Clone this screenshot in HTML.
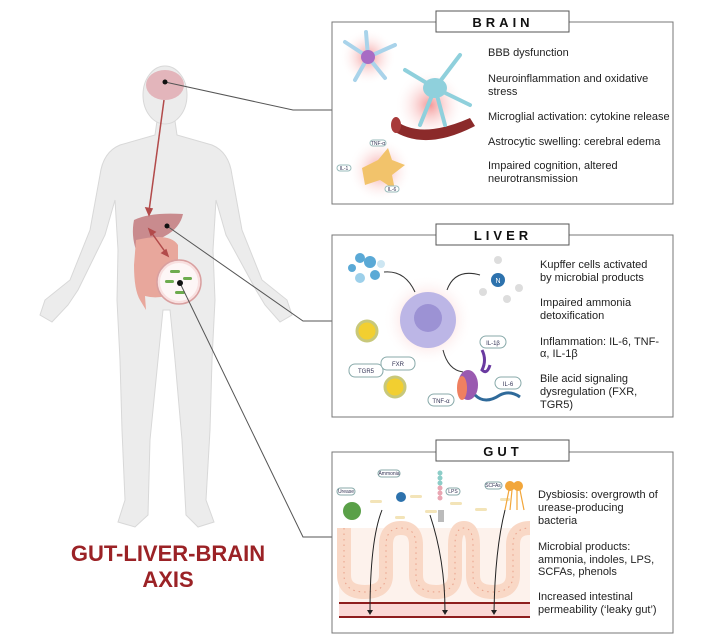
<!DOCTYPE html>
<html><head><meta charset="utf-8"><style>
html,body{margin:0;padding:0;background:#fff;}
body{width:706px;height:641px;overflow:hidden;position:relative;font-family:"Liberation Sans",sans-serif;}
svg{position:absolute;left:0;top:0;}
.t{font-family:"Liberation Sans",sans-serif;font-size:11px;fill:#222;}
.h{font-family:"Liberation Sans",sans-serif;font-size:13px;font-weight:bold;letter-spacing:4px;fill:#111;}
.s{font-family:"Liberation Sans",sans-serif;font-size:5px;fill:#335;}
</style></head><body>
<svg width="706" height="641" viewBox="0 0 706 641">
<defs>
<radialGradient id="rg"><stop offset="0" stop-color="#f28c8c" stop-opacity=".9"/><stop offset="1" stop-color="#fff" stop-opacity="0"/></radialGradient>
</defs>
<g fill="#ececec" stroke="#d8d8d8" stroke-width="1">
<path d="M157,121 L155,135 L120,145 Q103,152 100,175 L90,230 L70,280 L45,300 L40,315 L52,322 L68,305 L78,290 L105,235 L115,200 L118,250 L117,300 L120,360 L122,430 L125,500 L118,522 L135,527 L148,515 L150,440 L158,360 L163,310 L170,310 L175,360 L182,440 L186,515 L198,527 L214,522 L206,500 L210,430 L212,360 L215,300 L213,250 L216,200 L226,235 L256,290 L265,305 L280,322 L292,315 L287,300 L262,280 L242,230 L232,175 Q229,152 212,145 L177,135 L175,121 Z"/>
<ellipse cx="165" cy="95" rx="22" ry="29"/>
</g>
<ellipse cx="165" cy="85" rx="19" ry="15" fill="#e3b5bb"/>
<path d="M134,220 Q150,212 183,214 Q180,228 165,236 Q150,245 136,250 Q131,235 134,220Z" fill="#c98b8e"/>
<path d="M136,240 Q170,232 178,245 L178,292 Q160,300 145,296 L146,310 L140,300 Q134,290 134,265Z" fill="#e8a79c"/>
<circle cx="179" cy="282" r="22" fill="#f8e0e0" stroke="#d9a0a0" stroke-width="1.5"/>
<circle cx="179" cy="282" r="19" fill="#fff" opacity=".7"/>
<g fill="#6dab4e"><rect x="170" y="270" width="10" height="3" rx="1.5"/><rect x="165" y="280" width="9" height="3" rx="1.5"/><rect x="183" y="277" width="9" height="3" rx="1.5"/><rect x="175" y="291" width="10" height="3" rx="1.5"/></g>
<g stroke="#b24a4a" stroke-width="1.5" fill="#b24a4a">
<line x1="164" y1="100" x2="149" y2="211"/><path d="M149,215 l-3,-7 l6,1z"/>
<line x1="151" y1="232" x2="166" y2="253"/><path d="M149,229 l6,3 l-4,3z"/><path d="M168,256 l-6,-3 l4,-3z"/>
</g>
<g stroke="#555" stroke-width="1" fill="none">
<polyline points="165,82 293,110 332,110"/>
<polyline points="167,226 303,321 332,321"/>
<polyline points="180,283 303,537 332,537"/>
</g>
<g fill="#111"><circle cx="165" cy="82" r="2.5"/><circle cx="167" cy="226" r="2.5"/><circle cx="180" cy="283" r="3"/></g>
<text x="168" y="561" text-anchor="middle" font-family="Liberation Sans,sans-serif" font-size="22" font-weight="bold" fill="#9b2226">GUT-LIVER-BRAIN</text>
<text x="168" y="587" text-anchor="middle" font-family="Liberation Sans,sans-serif" font-size="22" font-weight="bold" fill="#9b2226">AXIS</text>

<rect x="332" y="22" width="341" height="182" fill="#fff" stroke="#777" stroke-width="1"/>
<rect x="436" y="11" width="133" height="21" fill="#fff" stroke="#555"/>
<text x="503" y="27" text-anchor="middle" class="h">BRAIN</text>
<circle cx="368" cy="57" r="28" fill="url(#rg)"/>
<g stroke="#a9d3ea" stroke-width="4" stroke-linecap="round"><line x1="368" y1="57" x2="345" y2="42"/><line x1="368" y1="57" x2="395" y2="45"/><line x1="368" y1="57" x2="355" y2="80"/><line x1="368" y1="57" x2="385" y2="78"/><line x1="368" y1="57" x2="366" y2="32"/></g>
<circle cx="368" cy="57" r="7" fill="#a86cc4"/>
<circle cx="430" cy="105" r="35" fill="url(#rg)"/>
<path d="M395,120 Q420,140 470,118 L475,126 Q425,152 392,130Z" fill="#8b2a2a"/>
<ellipse cx="396" cy="125" rx="5" ry="8" fill="#a83a3a"/>
<g stroke="#8fd0dc" stroke-width="4" stroke-linecap="round"><line x1="435" y1="88" x2="405" y2="70"/><line x1="435" y1="88" x2="460" y2="55"/><line x1="435" y1="88" x2="470" y2="105"/><line x1="435" y1="88" x2="420" y2="125"/><line x1="435" y1="88" x2="445" y2="125"/></g>
<ellipse cx="435" cy="88" rx="12" ry="10" fill="#8fd0dc"/>
<circle cx="380" cy="170" r="32" fill="url(#rg)"/>
<path d="M362,168 L378,160 L388,148 L392,160 L405,165 L392,175 L395,190 L380,180 L365,185Z" fill="#f2c36b"/>
<rect x="370" y="140" width="16" height="6" rx="3" fill="#fff" stroke="#9bb"/><text x="378" y="145" text-anchor="middle" class="s">TNF-α</text>
<rect x="337" y="165" width="14" height="6" rx="3" fill="#fff" stroke="#9bb"/><text x="344" y="170" text-anchor="middle" class="s">IL-1</text>
<rect x="385" y="186" width="14" height="6" rx="3" fill="#fff" stroke="#9bb"/><text x="392" y="191" text-anchor="middle" class="s">IL-6</text>
<g class="t"><text x="488" y="56">BBB dysfunction</text><text x="488" y="82">Neuroinflammation and oxidative</text><text x="488" y="95">stress</text><text x="488" y="120">Microglial activation: cytokine release</text><text x="488" y="145">Astrocytic swelling: cerebral edema</text><text x="488" y="169">Impaired cognition, altered</text><text x="488" y="182">neurotransmission</text></g>

<rect x="332" y="235" width="341" height="182" fill="#fff" stroke="#777"/>
<rect x="436" y="224" width="133" height="21" fill="#fff" stroke="#555"/>
<text x="503" y="240" text-anchor="middle" class="h">LIVER</text>
<g fill="#5aa9d6"><circle cx="360" cy="258" r="5"/><circle cx="370" cy="262" r="6"/><circle cx="352" cy="268" r="4"/><circle cx="375" cy="275" r="5"/><circle cx="360" cy="278" r="5" fill="#9dd0ea"/><circle cx="381" cy="264" r="4" fill="#cde6f2"/></g>
<circle cx="428" cy="320" r="45" fill="url(#rg)"/>
<circle cx="428" cy="320" r="28" fill="#bcb6e6"/>
<circle cx="428" cy="318" r="14" fill="#9c92d4"/>
<path d="M384,272 Q405,270 415,292" stroke="#333" fill="none"/>
<path d="M447,290 Q455,268 480,275" stroke="#333" fill="none"/>
<path d="M443,350 Q448,370 463,372" stroke="#333" fill="none"/>
<circle cx="498" cy="280" r="7" fill="#2d72ad"/><text x="498" y="283" text-anchor="middle" font-size="7" fill="#fff" font-family="Liberation Sans">N</text>
<g fill="#ddd"><circle cx="498" cy="260" r="4"/><circle cx="483" cy="292" r="4"/><circle cx="519" cy="288" r="4"/><circle cx="507" cy="299" r="4"/></g>
<circle cx="367" cy="331" r="10" fill="#f2cf30" stroke="#c8c87a" stroke-width="3"/>
<circle cx="395" cy="387" r="10" fill="#f2cf30" stroke="#c8c87a" stroke-width="3"/>
<rect x="349" y="364" width="34" height="13" rx="6" fill="#fff" stroke="#8aa"/><text x="366" y="373" text-anchor="middle" font-size="6" fill="#335" font-family="Liberation Sans">TGR5</text>
<rect x="381" y="357" width="34" height="13" rx="6" fill="#fff" stroke="#8aa"/><text x="398" y="366" text-anchor="middle" font-size="6" fill="#335" font-family="Liberation Sans">FXR</text>
<rect x="480" y="336" width="26" height="12" rx="6" fill="#fff" stroke="#8aa"/><text x="493" y="345" text-anchor="middle" font-size="6" fill="#335" font-family="Liberation Sans">IL-1β</text>
<rect x="495" y="377" width="26" height="12" rx="6" fill="#fff" stroke="#8aa"/><text x="508" y="386" text-anchor="middle" font-size="6" fill="#335" font-family="Liberation Sans">IL-6</text>
<rect x="428" y="394" width="26" height="12" rx="6" fill="#fff" stroke="#8aa"/><text x="441" y="403" text-anchor="middle" font-size="6" fill="#335" font-family="Liberation Sans">TNF-α</text>
<ellipse cx="468" cy="385" rx="10" ry="15" fill="#9a5ab0"/><ellipse cx="462" cy="388" rx="5" ry="12" fill="#ef8060"/>
<path d="M475,395 q10,10 25,0 q10,-5 20,2" stroke="#2f6a9a" stroke-width="3" fill="none"/>
<path d="M482,350 q5,10 0,20 q5,5 8,-5" stroke="#6a3aa0" stroke-width="3" fill="none"/>
<g class="t"><text x="540" y="268">Kupffer cells activated</text><text x="540" y="281">by microbial products</text><text x="540" y="306">Impaired ammonia</text><text x="540" y="319">detoxification</text><text x="540" y="345">Inflammation: IL-6, TNF-</text><text x="540" y="357">α, IL-1β</text><text x="540" y="382">Bile acid signaling</text><text x="540" y="395">dysregulation (FXR,</text><text x="540" y="408">TGR5)</text></g>

<rect x="332" y="452" width="341" height="181" fill="#fff" stroke="#777"/>
<rect x="436" y="440" width="133" height="21" fill="#fff" stroke="#555"/>
<text x="503" y="456" text-anchor="middle" class="h">GUT</text>
<rect x="339" y="528" width="191" height="76" fill="#fdf2ec"/>
<path id="wv" d="M344,528 L344,575 Q344,592 365,592 Q386,592 386,575 L386,545 Q386,528 401,528 Q416,528 416,545 L416,575 Q416,592 436,592 Q455,592 455,575 L455,545 Q455,528 464,528 Q473,528 473,545 L473,575 Q473,592 493,592 Q513,592 513,575 L513,545 Q513,528 530,528" stroke="#f9d8c6" stroke-width="14" fill="none"/>
<path d="M344,528 L344,575 Q344,592 365,592 Q386,592 386,575 L386,545 Q386,528 401,528 Q416,528 416,545 L416,575 Q416,592 436,592 Q455,592 455,575 L455,545 Q455,528 464,528 Q473,528 473,545 L473,575 Q473,592 493,592 Q513,592 513,575 L513,545 Q513,528 530,528" stroke="#e99f88" stroke-width="1" stroke-dasharray="1.5 4" fill="none"/>
<rect x="339" y="603" width="191" height="14" fill="#fbd9d6"/>
<line x1="339" y1="603" x2="530" y2="603" stroke="#8e1e1e" stroke-width="2"/>
<line x1="339" y1="617" x2="530" y2="617" stroke="#8e1e1e" stroke-width="2"/>
<g fill="#f3e4b8"><rect x="370" y="500" width="12" height="3" rx="1.5"/><rect x="410" y="495" width="12" height="3" rx="1.5"/><rect x="425" y="510" width="12" height="3" rx="1.5"/><rect x="450" y="502" width="12" height="3" rx="1.5"/><rect x="475" y="508" width="12" height="3" rx="1.5"/><rect x="395" y="516" width="10" height="3" rx="1.5"/><rect x="500" y="498" width="10" height="3" rx="1.5"/></g>
<circle cx="352" cy="511" r="9" fill="#5aa048"/>
<circle cx="401" cy="497" r="5" fill="#2d72ad"/>
<g fill="#8ccdc8"><circle cx="440" cy="473" r="2.5"/><circle cx="440" cy="478" r="2.5"/><circle cx="440" cy="483" r="2.5"/></g>
<g fill="#e9a6b2"><circle cx="440" cy="488" r="2.5"/><circle cx="440" cy="493" r="2.5"/><circle cx="440" cy="498" r="2.5"/></g>
<rect x="438" y="510" width="6" height="12" fill="#bbb"/>
<circle cx="510" cy="486" r="5" fill="#f2a63a"/><circle cx="518" cy="486" r="5" fill="#f2a63a"/>
<path d="M509,490 L505,510 M512,490 L510,510 M517,490 L517,510 M520,490 L524,510" stroke="#f2a63a" stroke-width="1.2"/>
<rect x="337" y="488" width="18" height="7" rx="3.5" fill="#fff" stroke="#8aa"/><text x="346" y="493" text-anchor="middle" class="s">Urease</text>
<rect x="378" y="470" width="22" height="7" rx="3.5" fill="#fff" stroke="#8aa"/><text x="389" y="475" text-anchor="middle" class="s">Ammonia</text>
<rect x="446" y="488" width="14" height="7" rx="3.5" fill="#fff" stroke="#8aa"/><text x="453" y="493" text-anchor="middle" class="s">LPS</text>
<rect x="485" y="482" width="17" height="7" rx="3.5" fill="#fff" stroke="#8aa"/><text x="493" y="487" text-anchor="middle" class="s">SCFAs</text>
<g stroke="#222" stroke-width="1" fill="none"><path d="M382,510 Q370,540 370,612"/><path d="M430,515 Q445,560 445,612"/><path d="M505,510 Q495,550 494,612"/></g>
<g fill="#222"><path d="M367,610 l3,5 l3,-5z"/><path d="M442,610 l3,5 l3,-5z"/><path d="M491,610 l3,5 l3,-5z"/></g>
<g class="t"><text x="538" y="498">Dysbiosis: overgrowth of</text><text x="538" y="511">urease-producing</text><text x="538" y="524">bacteria</text><text x="538" y="550">Microbial products:</text><text x="538" y="563">ammonia, indoles, LPS,</text><text x="538" y="575">SCFAs, phenols</text><text x="538" y="600">Increased intestinal</text><text x="538" y="613">permeability (‘leaky gut’)</text></g>
</svg>
</body></html>
